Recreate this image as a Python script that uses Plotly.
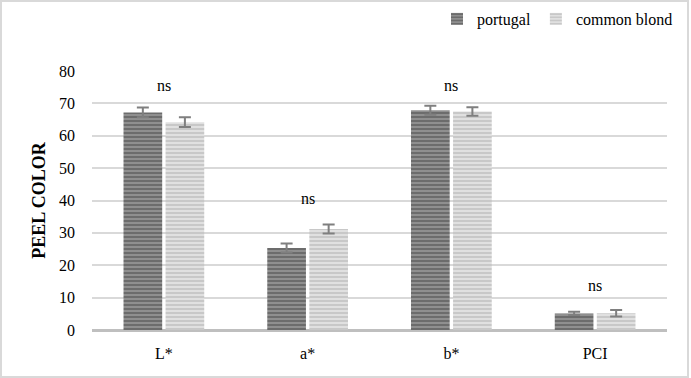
import plotly.graph_objects as go

categories = ["L*", "a*", "b*", "PCI"]
portugal = [67.2, 25.3, 67.9, 5.1]
portugal_err = [1.5, 1.4, 1.4, 0.5]
common_blond = [64.2, 31.2, 67.5, 5.2]
common_err = [1.5, 1.4, 1.3, 1.0]
ns_labels = ["ns", "ns", "ns", "ns"]
ns_y = [75.6, 40.7, 75.6, 13.9]
y_ticks = [0, 10, 20, 30, 40, 50, 60, 70, 80]

FONT = "Liberation Serif, Times New Roman, Times, serif"

fig = go.Figure()
fig.add_trace(go.Bar(
    name="portugal", x=categories, y=portugal,
    error_y=dict(type="data", array=portugal_err, color="#7f7f7f", thickness=2, width=6),
    marker=dict(color="#8a8a8a", line=dict(width=0),
                pattern=dict(shape="-", bgcolor="#8f8f8f", fgcolor="#4a4a4a", size=4, solidity=0.5)),
))
fig.add_trace(go.Bar(
    name="common blond", x=categories, y=common_blond,
    error_y=dict(type="data", array=common_err, color="#7f7f7f", thickness=2, width=6),
    marker=dict(color="#d6d6d6", line=dict(width=0),
                pattern=dict(shape="-", bgcolor="#e0e0e0", fgcolor="#b0b0b0", size=4, solidity=0.5)),
))

for c, t, yy in zip(categories, ns_labels, ns_y):
    fig.add_annotation(x=c, y=yy, text=t, showarrow=False,
                       font=dict(family=FONT, size=16, color="#000000"))

fig.add_shape(type="rect", xref="paper", yref="paper",
              x0=-91/575, x1=(575+21)/575, y0=-47/259, y1=(259+70)/259,
              line=dict(color="#d9d9d9", width=2), layer="below")

fig.update_layout(
    width=691, height=378,
    margin=dict(l=92, r=24, t=71, b=48, autoexpand=False),
    paper_bgcolor="white", plot_bgcolor="white",
    barmode="group", bargap=0.415, bargroupgap=0.08,
    font=dict(family=FONT, size=15, color="#000000"),
    showlegend=True,
    legend=dict(orientation="h",
                x=(678-92)/575, xanchor="right", y=1 + (71-2)/259, yanchor="top",
                font=dict(family=FONT, size=16), bgcolor="rgba(0,0,0,0)",
                itemwidth=30, traceorder="normal"),
    xaxis=dict(showgrid=False, showline=False, ticks="", zeroline=False, automargin=False,
               ticklabelstandoff=12,
               tickfont=dict(family=FONT, size=16)),
    yaxis=dict(range=[0, 80], tickvals=y_ticks, showgrid=True, gridcolor="#d9d9d9", gridwidth=1.5,
               zeroline=True, zerolinecolor="#bfbfbf", zerolinewidth=3, automargin=False,
               showline=False, ticks="", ticklen=0, ticklabelstandoff=16,
               title=dict(text="<b>PEEL COLOR</b>", font=dict(family=FONT, size=18), standoff=8),
               tickfont=dict(family=FONT, size=16)),
)

fig.write_html("out.html", config={"displayModeBar": False},
               post_script="document.body.style.margin='0';document.body.style.padding='0';")
